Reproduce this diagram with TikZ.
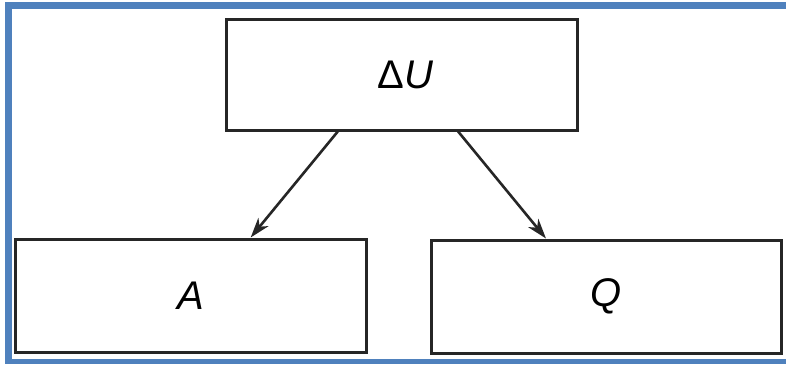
\documentclass[tikz,border=0pt]{standalone}
\usepackage{fontspec}
\setmainfont{Liberation Sans}
\usetikzlibrary{calc,arrows.meta}
\definecolor{frameblue}{RGB}{79,129,189}
\tikzset{
  box/.style={draw=black!85, line width=3pt, minimum width=351pt, minimum height=111pt, inner sep=0pt, font=\fontsize{40}{40}\selectfont},
  conn/.style={draw=black!85, line width=2.6pt, -{Stealth[length=20pt,width=13pt,inset=6pt]}}
}
\begin{document}
\begin{tikzpicture}[x=1pt,y=-1pt]
\useasboundingbox (0,0) rectangle (786,364);
\fill[white] (0,0) rectangle (786,364);
\fill[frameblue] (5,2) rectangle (12,364);
\fill[frameblue] (5,2) rectangle (786,9);
\fill[frameblue] (5,359) rectangle (786,364);
\node[box] (top) at (401.5,74.5) {\hspace*{8pt}Δ\textit{U}};
\node[box, minimum height=113pt] (left) at (190.5,295.5) {\textit{A}};
\node[box, minimum height=113pt, minimum width=350pt] (right) at (606,296.5) {\textit{Q}};
\coordinate (s1) at ($(top.south west)!0.32!(top.south east)$);
\coordinate (e1) at ($(left.north west)!0.67!(left.north east)$);
\coordinate (s2) at ($(top.south west)!0.66!(top.south east)$);
\coordinate (e2) at ($(right.north west)!0.33!(right.north east)$);
\draw[conn] (s1) -- (e1);
\draw[conn] (s2) -- (e2);
\end{tikzpicture}
\end{document}
